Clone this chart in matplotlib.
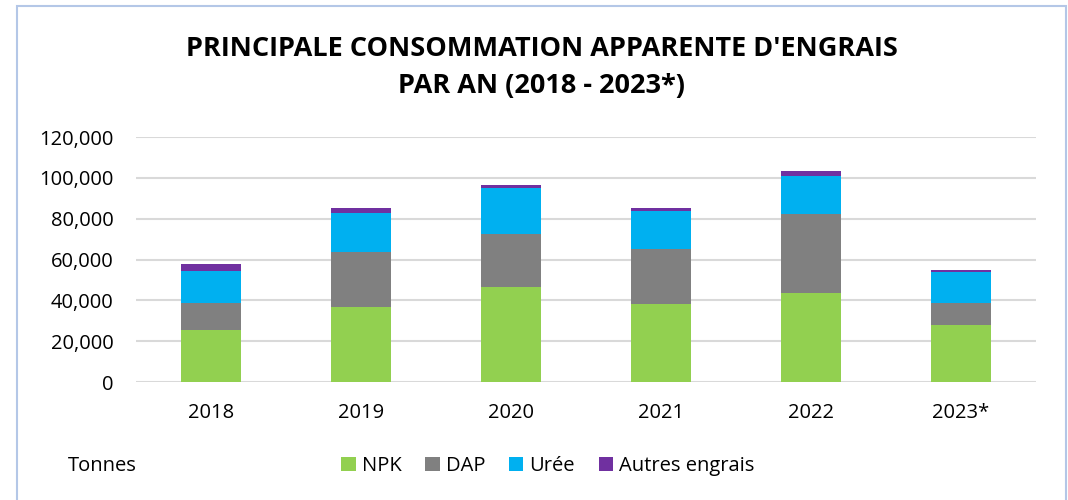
import matplotlib.pyplot as plt
from matplotlib.patches import Rectangle
from matplotlib.ticker import FuncFormatter

plt.rcParams['font.family'] = ['Open Sans', 'DejaVu Sans']

years = ["2018", "2019", "2020", "2021", "2022", "2023*"]
npk = [25300, 36600, 46400, 38100, 43500, 27800]
dap = [13400, 27300, 26100, 27100, 39000, 10900]
uree = [15900, 18800, 22600, 18500, 18500, 15400]
autres = [3100, 2600, 1200, 1600, 2400, 600]

series = [("NPK", npk, "#92d050"), ("DAP", dap, "#808080"),
          ("Urée", uree, "#00b0f0"), ("Autres engrais", autres, "#7030a0")]

fig = plt.figure(figsize=(10.68, 5.0), dpi=100)
fig.patches.append(Rectangle((17 / 1068, -0.01), 1049 / 1068, 1 - 6 / 500 + 0.01,
                             transform=fig.transFigure, fill=False,
                             edgecolor="#b4c7e7", linewidth=1.5))
ax = fig.add_axes([136 / 1068, 1 - 382 / 500, 900 / 1068, 245 / 500])

x = range(len(years))
bottom = [0] * len(years)
for name, vals, col in series:
    ax.bar(x, vals, width=0.4, bottom=bottom, color=col, label=name, zorder=3)
    bottom = [b + v for b, v in zip(bottom, vals)]

ax.set_xlim(-0.5, len(years) - 0.5)
ax.set_ylim(0, 120000)
ax.set_yticks(range(0, 120001, 20000))
ax.yaxis.set_major_formatter(FuncFormatter(lambda v, p: f"{int(v):,}"))
ax.set_xticks(list(x))
ax.set_xticklabels(years)
ax.grid(axis="y", color="#d9d9d9", linewidth=1.5, zorder=0)
for s in ax.spines.values():
    s.set_visible(False)
ax.tick_params(length=0, labelsize=14.5)
ax.tick_params(axis="x", pad=15)
ax.tick_params(axis="y", pad=16)

fig.text(542 / 1068, 1 - 67 / 500,
         "PRINCIPALE CONSOMMATION APPARENTE D'ENGRAIS\nPAR AN (2018 - 2023*)",
         ha="center", va="center", fontsize=19.5, fontweight="bold",
         linespacing=1.55)
fig.text(68 / 1068, 1 - 466 / 500, "Tonnes", ha="left", va="center",
         fontsize=14.5)
fig.legend(loc="center", bbox_to_anchor=(548 / 1068, 1 - 466 / 500), ncol=4,
           frameon=False, fontsize=14.5, handlelength=0.7, handleheight=0.7,
           handletextpad=0.3, columnspacing=1.2)

fig.savefig("out.png", dpi=100)
